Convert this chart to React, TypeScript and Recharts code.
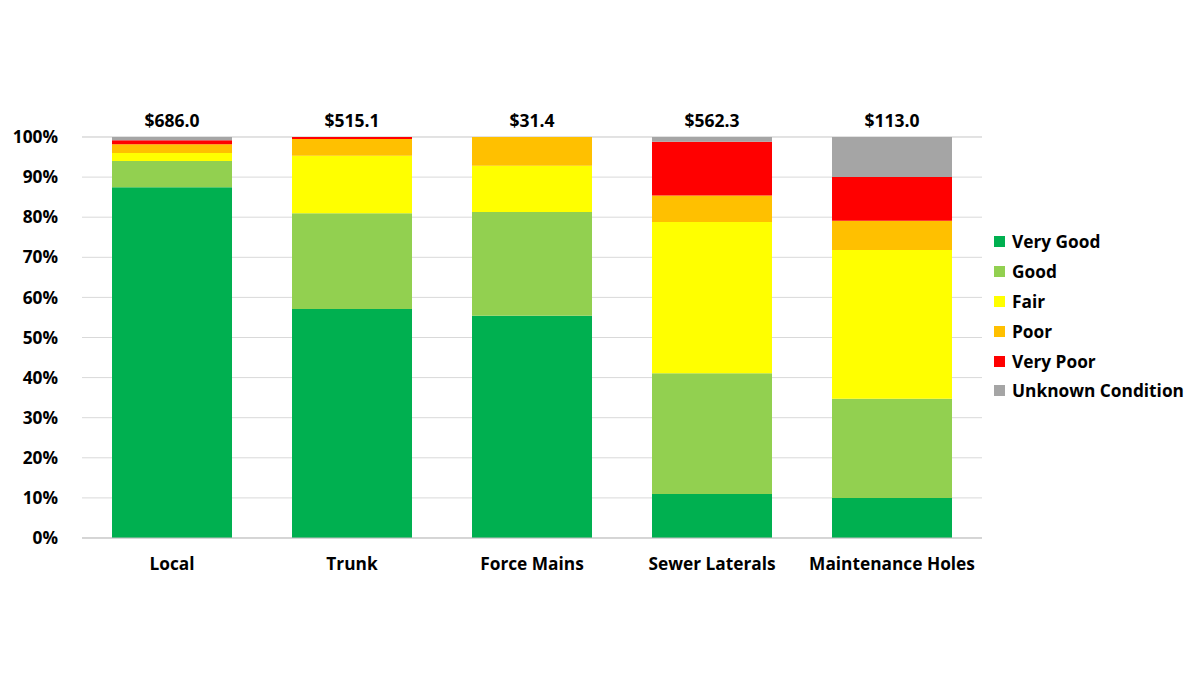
import { BarChart, Bar, XAxis, YAxis, CartesianGrid } from 'recharts';

const categories = ['Local', 'Trunk', 'Force Mains', 'Sewer Laterals', 'Maintenance Holes'];
const totals = ['$686.0', '$515.1', '$31.4', '$562.3', '$113.0'];

// percentages of each asset class by condition
const veryGood = [87.5, 57.1, 55.4, 11.0, 10.0];
const good = [6.5, 23.9, 25.9, 30.1, 24.7];
const fair = [2.0, 14.3, 11.5, 37.7, 37.1];
const poor = [2.2, 4.2, 7.2, 6.6, 7.3];
const veryPoor = [1.0, 0.5, 0, 13.4, 10.9];
const unknown = [0.8, 0, 0, 1.2, 10.0];

const yTicks = [0, 10, 20, 30, 40, 50, 60, 70, 80, 90, 100];

const SERIES = [
  { key: 'veryGood', name: 'Very Good', color: '#00b050' },
  { key: 'good', name: 'Good', color: '#92d050' },
  { key: 'fair', name: 'Fair', color: '#ffff00' },
  { key: 'poor', name: 'Poor', color: '#ffc000' },
  { key: 'veryPoor', name: 'Very Poor', color: '#ff0000' },
  { key: 'unknown', name: 'Unknown Condition', color: '#a5a5a5' },
];

const data = categories.map((name, i) => ({
  name,
  veryGood: veryGood[i],
  good: good[i],
  fair: fair[i],
  poor: poor[i],
  veryPoor: veryPoor[i],
  unknown: unknown[i],
}));

const FONT = '"Open Sans", sans-serif';
const tickStyle = { fontFamily: FONT, fontWeight: 700, fontSize: 17.3, fill: '#000' };

export default function App() {
  return (
    <div style={{ position: 'absolute', left: 0, top: 0, width: 1200, height: 675, background: '#fff' }}>
      <BarChart
        width={1200}
        height={675}
        data={data}
        margin={{ top: 107, right: 218, bottom: 97, left: 22 }}
        barCategoryGap="16.67%"
      >
        <CartesianGrid vertical={false} stroke="#d9d9d9" />
        <XAxis
          dataKey="name"
          height={40}
          tickLine={false}
          axisLine={{ stroke: '#bfbfbf' }}
          tick={tickStyle}
          tickMargin={14}
        />
        <XAxis
          xAxisId="top"
          orientation="top"
          dataKey="name"
          height={30}
          tickLine={false}
          axisLine={false}
          tick={{ ...tickStyle, fontSize: 17.5 }}
          tickMargin={4}
          tickFormatter={(_v, i) => totals[i]}
        />
        <YAxis
          width={60}
          domain={[0, 100]}
          ticks={yTicks}
          interval={0}
          tickFormatter={(v) => `${v}%`}
          axisLine={false}
          tickLine={false}
          tick={tickStyle}
          tickMargin={18}
        />
        {SERIES.map((s) => (
          <Bar key={s.key} dataKey={s.key} name={s.name} stackId="a" fill={s.color} isAnimationActive={false} />
        ))}
      </BarChart>
      <div
        style={{
          position: 'absolute',
          left: 994,
          top: 227,
          fontFamily: FONT,
          fontWeight: 700,
          fontSize: 17.3,
          color: '#000',
        }}
      >
        {SERIES.map((s) => (
          <div key={s.key} style={{ display: 'flex', alignItems: 'center', height: 29.8, whiteSpace: 'nowrap' }}>
            <span style={{ width: 11, height: 11, background: s.color, marginRight: 7, display: 'inline-block' }} />
            {s.name}
          </div>
        ))}
      </div>
    </div>
  );
}
